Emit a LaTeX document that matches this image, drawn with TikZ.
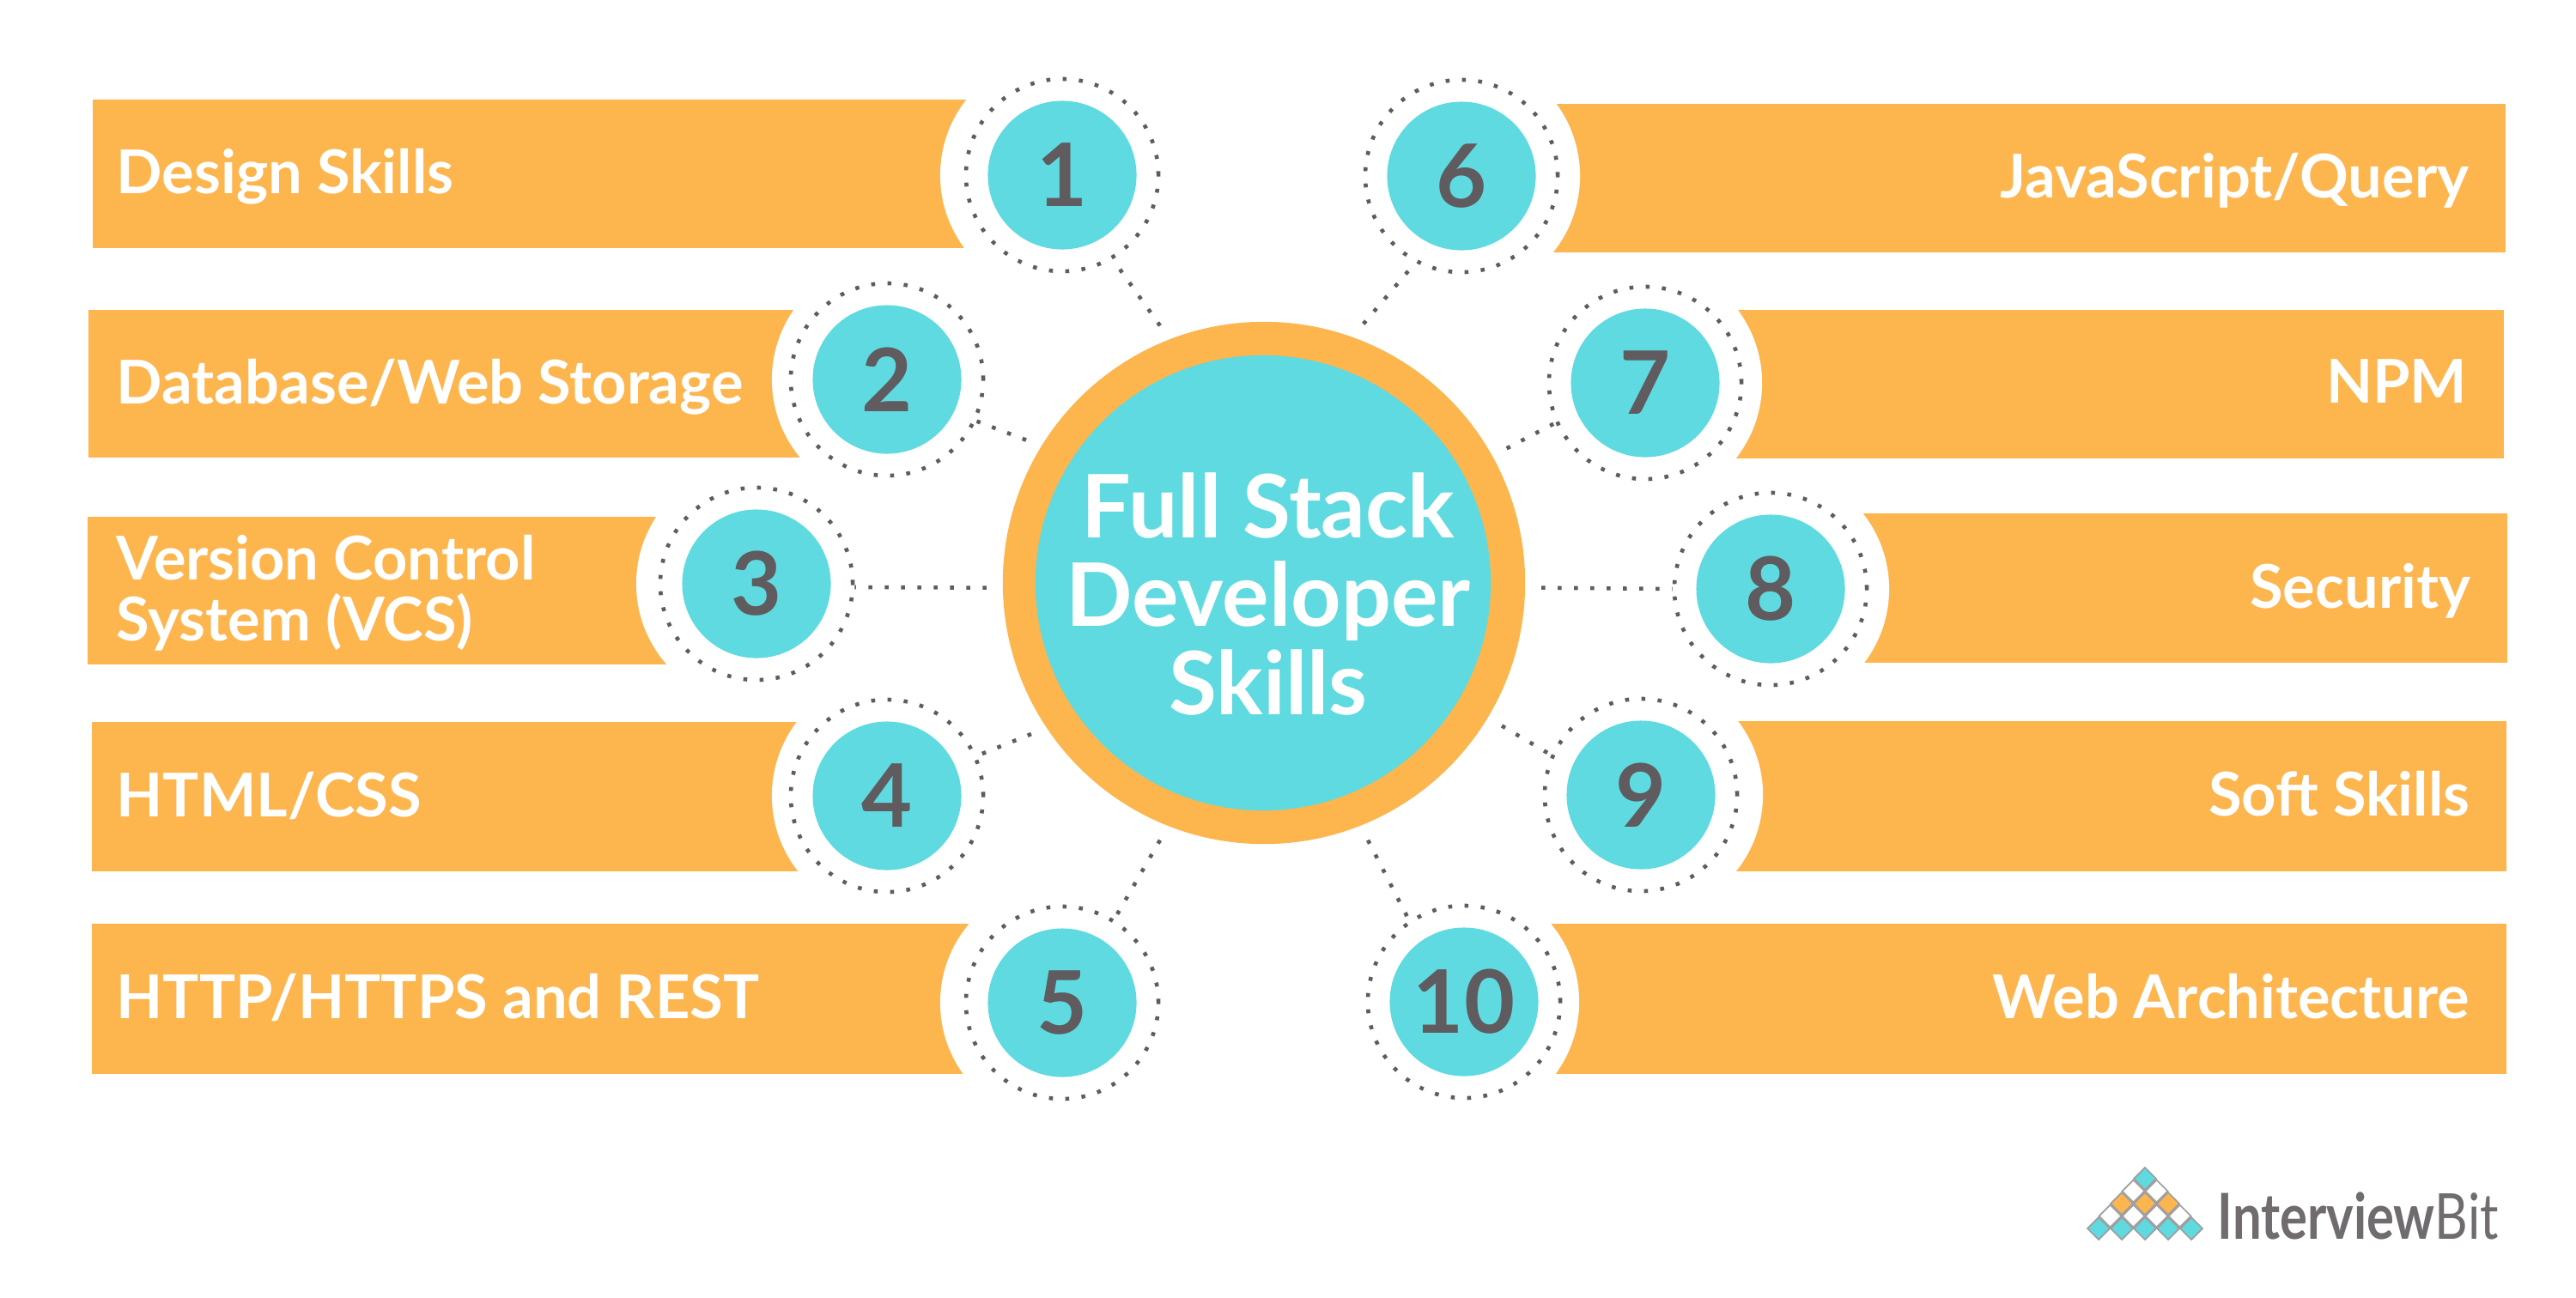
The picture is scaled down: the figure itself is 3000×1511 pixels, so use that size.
\documentclass[tikz,border=0pt]{standalone}
\usepackage{fontspec}
\setmainfont{Lato}
\newfontfamily\logofont[FakeStretch=0.81]{Lato}
\usetikzlibrary{positioning}
\definecolor{barorange}{HTML}{FDB54E}
\definecolor{discteal}{HTML}{5EDAE0}
\definecolor{numgray}{HTML}{5F5B5E}
\tikzset{
  barbox/.style={fill=barorange,inner sep=0pt},
  barlabel/.style={text=white,font=\fontsize{20}{20.2}\selectfont\bfseries,inner sep=0pt,align=left,yshift=-0.08cm,execute at begin node=\strut},
  bite/.style={circle,fill=white,inner sep=0pt,minimum size=2.84cm},
  ringdot/.style={circle,draw=numgray,line width=1.3pt,dash pattern=on 1.3pt off 4.1pt,inner sep=0pt,minimum size=2.24cm},
  numdisc/.style={circle,fill=discteal,text=numgray,font=\fontsize{29}{30}\selectfont\bfseries,inner sep=0pt,minimum size=1.73cm},
  link/.style={draw=numgray,line width=1.3pt,dash pattern=on 1.3pt off 4.1pt},
}

\begin{document}
\begin{tikzpicture}[x=0.01cm,y=-0.01cm]
    \useasboundingbox (0,0) rectangle (3000,1511);

    %bars on the left
    \foreach \i/\xa/\ya/\xb/\yb/\txt in {
      1/107/115/1237/288/{Design Skills},
      2/102/360/1033/532/{Database/Web Storage},
      3/101/601/881/773/{Version Control\\System (VCS)},
      4/106/840/1033/1014/{HTML/CSS},
      5/106/1075/1237/1250/{HTTP/HTTPS and REST}} {
      \node[barbox,anchor=north west,minimum width=(\xb-\xa)*0.01cm,minimum height=(\yb-\ya)*0.01cm] (bar\i) at (\xa,\ya) {};
      \node[barlabel,anchor=west,xshift=135cm*0.01-\xa*0.01cm] (label\i) at (bar\i.west) {\txt};
    }

    %bars on the right
    \foreach \i/\xa/\ya/\xb/\yb/\txt in {
      6/1702/120/2919/293/{JavaScript/Query},
      7/1916/360/2917/533/{NPM},
      8/2062/597/2921/771/{Security},
      9/1911/839/2920/1014/{Soft Skills},
      10/1705/1075/2920/1250/{Web Architecture}} {
      \node[barbox,anchor=north east,minimum width=(\xb-\xa)*0.01cm,minimum height=(\yb-\ya)*0.01cm] (bar\i) at (\xb,\ya) {};
      \node[barlabel,anchor=east,xshift=-0.43cm] (label\i) at (bar\i.east) {\txt};
    }

    %numbered discs
    \foreach \i/\xc/\yc/\xd in {1/1237/204/1237,2/1033/442/1041,3/881/680/883,4/1033/927/1041,5/1237/1168/1237,
      6/1702/205/1698,7/1916/446/1910,8/2062/686/2058,9/1911/926/1911,10/1705/1167/1697} {
      \node[bite] (bite\i) at (\xd,\yc) {};
      \node[ringdot] (ring\i) at (\xc,\yc) {};
      \node[numdisc] (num\i) at (\xc,\yc) {\i};
    }

    %middle circle
    \node[circle,fill=barorange,inner sep=0pt,minimum size=6.08cm,outer sep=0.19cm] (core) at (1472,679) {};
    \node[circle,fill=discteal,inner sep=0pt,minimum size=5.3cm] (coreinner) at (1471,679) {};
    \node[text=white,font=\fontsize{29}{29.3}\selectfont\bfseries,align=center,inner sep=0pt] (title) at (1477,692) {Full Stack\\Developer\\Skills};

    \foreach \i/\a/\b in {1/-59/112,2/-25/149,3/-2/181,4/24/213,5/58/248,
      6/242/69,7/204/29,8/180/-1,9/156/-31,10/124/-68} {
      \draw[link] (core.\b) -- (ring\i.\a);
    }

    %logo
    \foreach \r/\n/\col in {0/5/discteal,1/4/white,2/3/barorange,3/2/white,4/1/discteal} {
      \foreach \k in {1,...,\n} {
        \pgfmathsetmacro\xd{2498+(\k-(\n+1)/2)*27}
        \pgfmathsetmacro\yd{1431-\r*14.5}
        \filldraw[fill=\col,draw=numgray!60,line width=0.5pt] (\xd-13,\yd) -- (\xd,\yd-13) -- (\xd+13,\yd) -- (\xd,\yd+13) -- cycle;
      }
    }
    \node[text=numgray!90,font=\logofont\fontsize{21}{24}\selectfont,anchor=base west,inner sep=0pt] (logotext) at (2582,1443) {\textbf{Interview}Bit};
\end{tikzpicture}
\end{document}
